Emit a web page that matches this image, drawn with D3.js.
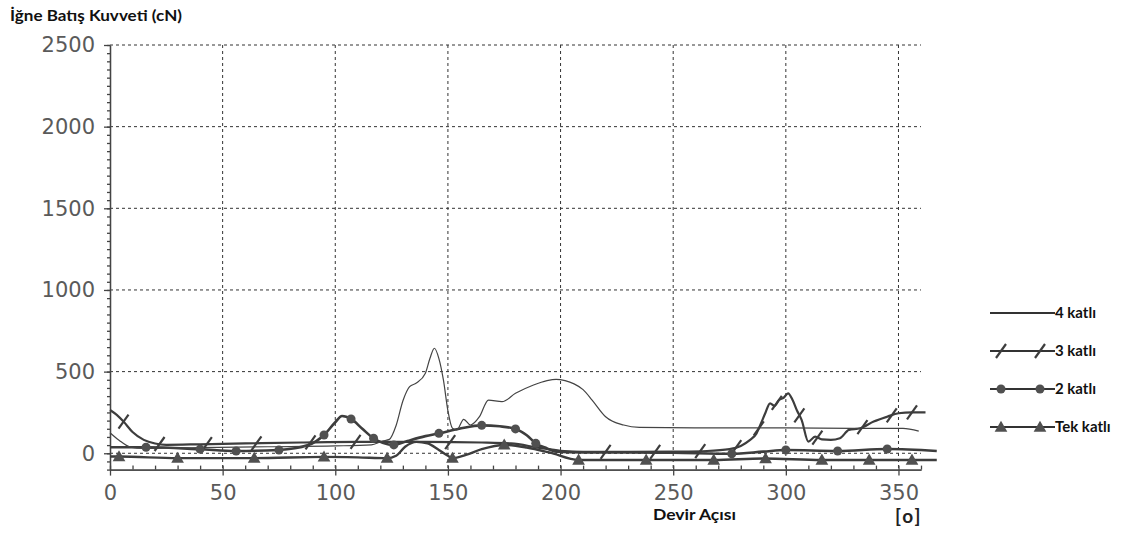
<!DOCTYPE html>
<html>
<head>
<meta charset="utf-8">
<script src="https://cdn.jsdelivr.net/npm/d3@7"></script>
<style>
  body { margin: 0; background: #fff; }
</style>
</head>
<body>
<script>
// Tick labels
var angleTicks = [0, 50, 100, 150, 200, 250, 300, 350];
var forceTicks = [0, 500, 1000, 1500, 2000, 2500];
var seriesNames = ["4 katlı", "3 katlı", "2 katlı", "Tek katlı"];

// [devir açısı, kuvvet]
var kat4 = [[0,126],[4,80],[9,38],[15,30],[40,35],[70,40],[100,45],[116,52],[121,75],[124,85],[127,170],[130,320],
    [133,408],[136,430],[140,490],[142,580],[144,643],[146,580],[148,449],[150,260],[152,153],[154,143],[157,208],
    [160,173],[164,224],[168,326],[174,316],[180,367],[188,418],[194,445],[198,453],[202,445],[206,425],[210,390],
    [214,326],[220,224],[228,173],[235,158],[260,155],[300,155],[330,153],[352,153],[359,136]];

var kat3 = [[0,265],[3,235],[6,194],[10,130],[15,82],[20,60],[25,52],[40,55],[60,60],[85,66],[110,70],[140,70],
    [165,66],[178,60],[190,35],[200,15],[210,8],[230,8],[250,10],[265,14],[275,25],[280,45],[284,80],[287,122],
    [289,184],[291,250],[293,306],[295,290],[297,326],[299,340],[301,367],[303,326],[305,260],[307,204],[310,71],
    [313,102],[316,85],[320,82],[324,92],[328,143],[333,153],[339,194],[345,224],[350,245],[356,251],[362,251]];

var kat2 = [[0,37],[16,37],[40,25],[56,14],[75,20],[88,50],[95,112],[100,190],[103,228],[107,210],[112,150],
    [117,92],[121,65],[126,51],[132,75],[140,105],[146,122],[155,150],[165,171],[173,165],[180,149],[185,110],
    [189,61],[194,30],[198,10],[210,5],[230,5],[250,3],[276,-3],[290,10],[300,20],[323,14],[345,26],[367,14]];

var tek = [[0,-20],[4,-20],[30,-30],[64,-30],[95,-22],[110,-25],[123,-30],[127,-15],[131,40],[136,70],[141,60],
    [146,20],[150,-15],[152,-30],[158,-10],[165,25],[175,51],[185,35],[195,5],[208,-41],[238,-41],[268,-41],
    [290,-32],[316,-41],[337,-41],[356,-41],[367,-41]];

// where the markers sit along each series
var kat3Marks = [6, 22, 43, 65, 89, 109, 151, 220, 242, 262, 278, 288, 296, 306, 314, 334, 347, 356];
var kat2Marks = [16, 40, 56, 75, 95, 107, 117, 126, 146, 165, 180, 189, 276, 300, 323, 345];
var tekMarks = [4, 30, 64, 95, 123, 152, 175, 208, 238, 268, 291, 316, 337, 356];

document.addEventListener('DOMContentLoaded', function() {
    var width = 1128,
        height = 543;
    var ink = "#3d3d3d";

    var svg = d3.select("body").append("svg")
        .attr("width", width)
        .attr("height", height);

    var x = d3.scaleLinear().domain([0, 360]).range([110, 921]);
    var y = d3.scaleLinear().domain([-100, 2500]).range([469.6, 45]);

    // value of a series at some angle (linear between read points)
    function valueAt(series, a) {
        var i = d3.bisector(function(d) { return d[0]; }).left(series, a);
        if (i <= 0) return series[0][1];
        if (i >= series.length) return series[series.length - 1][1];
        var p = series[i - 1], q = series[i];
        return p[1] + (q[1] - p[1]) * (a - p[0]) / (q[0] - p[0]);
    }

    // dashed grid
    var grid = svg.append("g").attr("stroke", "#333").attr("stroke-dasharray", "3,3").attr("stroke-width", 1);
    grid.selectAll("line.h")
        .data(forceTicks)
        .enter().append("line")
        .attr("class", "h")
        .attr("x1", x(0)).attr("x2", x(360))
        .attr("y1", function(d) { return y(d); })
        .attr("y2", function(d) { return y(d); });
    grid.selectAll("line.v")
        .data(angleTicks.filter(function(d) { return d > 0; }))
        .enter().append("line")
        .attr("class", "v")
        .attr("y1", y(2500)).attr("y2", y(-100))
        .attr("x1", function(d) { return x(d); })
        .attr("x2", function(d) { return x(d); });

    // axes
    svg.append("g")
        .attr("transform", "translate(" + x(0) + ",0)")
        .call(d3.axisLeft(y).tickValues(forceTicks).tickFormat(d3.format("d"))
            .tickSize(6).tickSizeOuter(0).tickPadding(9));
    svg.append("g")
        .attr("transform", "translate(" + x(0) + ",0)")
        .call(d3.axisLeft(y).tickValues(d3.range(-100, 2501, 50)).tickSize(3).tickSizeOuter(0).tickFormat(""));

    svg.append("g")
        .attr("transform", "translate(0," + y(-100) + ")")
        .call(d3.axisBottom(x).tickValues(angleTicks).tickFormat(d3.format("d"))
            .tickSize(6).tickSizeOuter(0).tickPadding(9));
    svg.append("g")
        .attr("transform", "translate(0," + y(-100) + ")")
        .call(d3.axisTop(x).tickValues(d3.range(0, 361, 10)).tickSize(4).tickSizeOuter(0).tickFormat(""));

    svg.selectAll(".domain, .tick line").attr("stroke", "#444").attr("stroke-width", 1.3);
    svg.selectAll(".tick text")
        .attr("font-family", "DejaVu Sans")
        .attr("font-size", 21)
        .attr("fill", "#5a5a5a");

    // series lines
    var line = d3.line()
        .x(function(d) { return x(d[0]); })
        .y(function(d) { return y(d[1]); })
        .curve(d3.curveMonotoneX);

    svg.append("path").datum(tek).attr("d", line)
        .attr("fill", "none").attr("stroke", ink).attr("stroke-width", 2.4);
    svg.append("path").datum(kat2).attr("d", line)
        .attr("fill", "none").attr("stroke", ink).attr("stroke-width", 2.6);
    svg.append("path").datum(kat3).attr("d", line)
        .attr("fill", "none").attr("stroke", ink).attr("stroke-width", 2.2);
    svg.append("path").datum(kat4).attr("d", line)
        .attr("fill", "none").attr("stroke", "#444").attr("stroke-width", 1.2);

    // markers
    function slash(g, cx, cy) {
        g.append("line")
            .attr("x1", cx - 5).attr("y1", cy + 7)
            .attr("x2", cx + 5).attr("y2", cy - 7)
            .attr("stroke", ink).attr("stroke-width", 2.2);
    }
    function dot(g, cx, cy) {
        g.append("circle").attr("cx", cx).attr("cy", cy).attr("r", 4.5).attr("fill", "#505050");
    }
    var tri = d3.symbol().type(d3.symbolTriangle).size(70);
    function triangle(g, cx, cy) {
        g.append("path").attr("d", tri).attr("transform", "translate(" + cx + "," + (cy + 1) + ")").attr("fill", "#505050");
    }

    var marks = svg.append("g");
    kat3Marks.forEach(function(a) { slash(marks, x(a), y(valueAt(kat3, a))); });
    kat2Marks.forEach(function(a) { dot(marks, x(a), y(valueAt(kat2, a))); });
    tekMarks.forEach(function(a) { triangle(marks, x(a), y(valueAt(tek, a))); });

    // legend
    var ly = d3.scalePoint().domain(seriesNames).range([313, 427]);
    var markFns = [null, slash, dot, triangle];
    seriesNames.forEach(function(name, i) {
        var g = svg.append("g");
        var yy = ly(name);
        g.append("line")
            .attr("x1", 990).attr("x2", 1055)
            .attr("y1", yy).attr("y2", yy)
            .attr("stroke", "#333").attr("stroke-width", 2);
        if (markFns[i]) {
            markFns[i](g, 1001, yy);
            markFns[i](g, 1040, yy);
        }
        g.append("text")
            .attr("x", 1055).attr("y", yy + 5)
            .attr("font-family", "Lato").attr("font-weight", "bold").attr("font-size", 15)
            .attr("fill", "#111")
            .text(name);
    });

    // titles
    svg.append("text")
        .attr("x", 10).attr("y", 21)
        .attr("font-family", "Lato").attr("font-weight", "bold").attr("font-size", 16)
        .attr("textLength", 172).attr("lengthAdjust", "spacingAndGlyphs")
        .attr("fill", "#111")
        .text("İğne Batış Kuvveti (cN)");

    svg.append("text")
        .attr("x", 653).attr("y", 520)
        .attr("font-family", "Lato").attr("font-weight", "bold").attr("font-size", 16)
        .attr("textLength", 83).attr("lengthAdjust", "spacingAndGlyphs")
        .attr("fill", "#111")
        .text("Devir Açısı");

    svg.append("text")
        .attr("x", 895).attr("y", 523)
        .attr("font-family", "Lato").attr("font-weight", "bold").attr("font-size", 19)
        .attr("letter-spacing", 2)
        .attr("fill", "#222")
        .text("[o]");
});
</script>
</body>
</html>
